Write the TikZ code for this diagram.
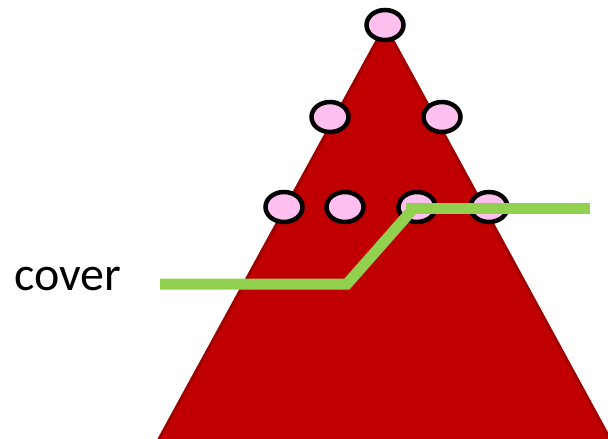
\documentclass[tikz,border=0pt]{standalone}
\usepackage{fontspec}
\setmainfont{Carlito}
\usetikzlibrary{shapes.geometric}

\definecolor{treered}{RGB}{192,0,0}
\definecolor{treeedge}{RGB}{160,0,0}
\definecolor{nodepink}{RGB}{255,191,239}
\definecolor{covergreen}{RGB}{146,208,80}

\tikzset{
  treenode/.style={ellipse, draw=black, fill=nodepink, line width=4.5pt,
    minimum width=37pt, minimum height=30pt, inner sep=0pt},
  coverline/.style={draw=covergreen, line width=11pt}
}

\begin{document}
\begin{tikzpicture}[x=1pt, y=-1pt, line join=miter]
  \useasboundingbox (0,0) rectangle (608,439);
  % the tree
  \coordinate (T) at (385,26);
  \coordinate (BL) at (158,441);
  \coordinate (BR) at (611,441);
  \draw[fill=treered, draw=treeedge, line width=3pt] (T) -- (BL) -- (BR) -- cycle;
  % nodes
  \node[treenode] (r) at (385,25) {};
  \node[treenode] (a) at (330,117) {};
  \node[treenode] (b) at (442,117) {};
  \node[treenode] (c) at (284,207) {};
  \node[treenode] (d) at (345,207) {};
  \node[treenode] (e) at (417,207) {};
  \node[treenode] (f) at (489,207) {};
  % the cover
  \coordinate (L0) at (160,284);
  \coordinate (L1) at (347,284);
  \coordinate (L2) at (414,208);
  \coordinate (L3) at (590,208);
  \draw[coverline] (L0) -- (L1) -- (L2);
  \draw[coverline] (406,208) -- (L3);
  \node[font=\fontsize{48}{52}\selectfont, anchor=base west, inner sep=0pt] (lbl) at (14,290) {cover};
\end{tikzpicture}
\end{document}
